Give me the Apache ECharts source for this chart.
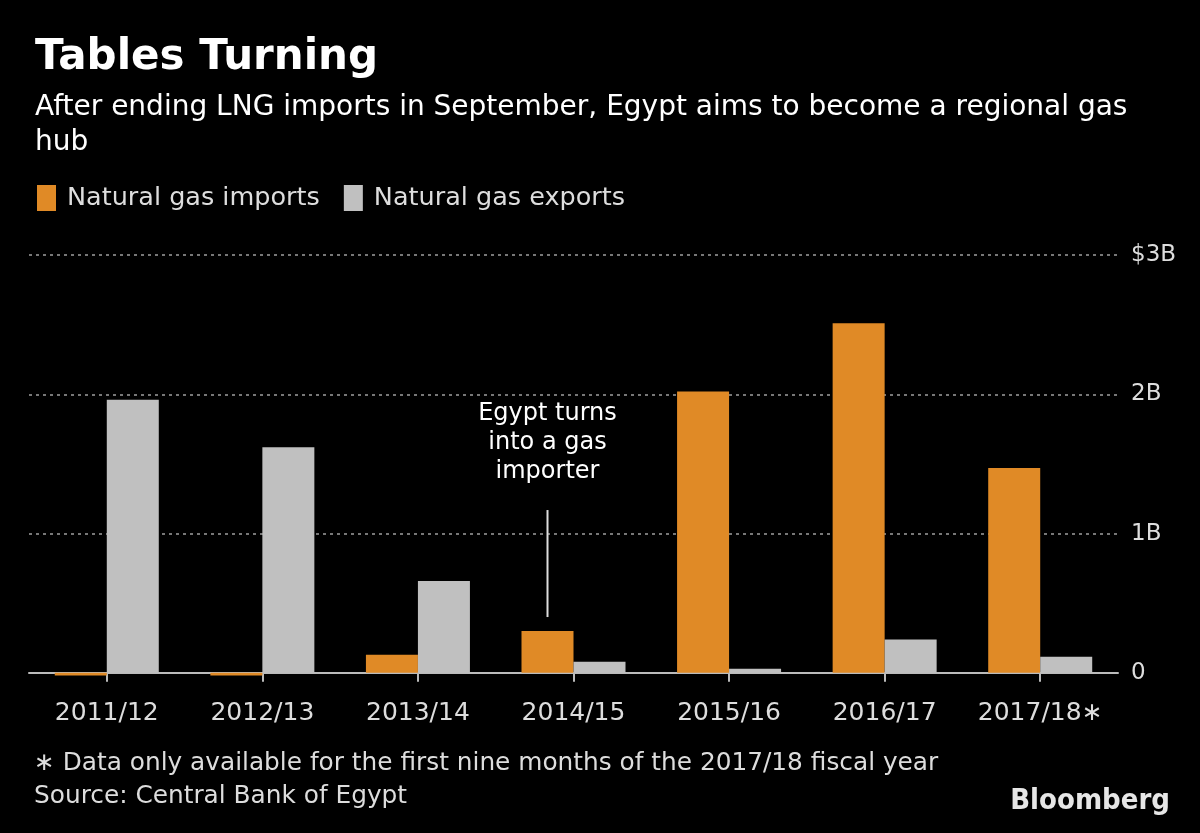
<!DOCTYPE html>
<html><head><meta charset="utf-8">
<script src="https://cdn.jsdelivr.net/npm/echarts@6/dist/echarts.min.js"></script>
<style>html,body{margin:0;padding:0;background:#000;}#c{width:1200px;height:833px;}</style>
</head><body><div id="c"></div>
<script>
const categories = ['2011/12','2012/13','2013/14','2014/15','2015/16','2016/17','2017/18'];
const importsB = [-0.02, -0.02, 0.13, 0.30, 2.02, 2.51, 1.47];
const exportsB = [1.96, 1.62, 0.66, 0.08, 0.03, 0.24, 0.115];
const yTickValues = [0, 1, 2, 3];
const yTickLabels = ['0', '1B', '2B', '$3B'];
const FONT = 'DejaVu Sans';

const chart = echarts.init(document.getElementById('c'), null, {renderer:'canvas'});
chart.setOption({
  backgroundColor:'#000',
  animation:false,
  textStyle:{fontFamily:FONT},
  title:{
    text:'Tables Turning',
    subtext:'After ending LNG imports in September, Egypt aims to become a regional gas\nhub',
    left:30, top:32, itemGap:11,
    textStyle:{color:'#fff', fontSize:42, fontWeight:'bold', fontFamily:FONT},
    subtextStyle:{color:'#fff', fontSize:28, lineHeight:35, fontFamily:FONT}
  },
  legend:{
    left:32, top:180, itemWidth:19, itemHeight:26, itemGap:24,
    icon:'rect',
    textStyle:{color:'#ddd', fontSize:25.5, fontFamily:FONT, padding:[0,0,0,6]},
    data:['Natural gas imports','Natural gas exports']
  },
  grid:{left:29, right:82, top:255, bottom:156, containLabel:false},
  xAxis:{
    type:'category', data:categories,
    axisLine:{onZero:true, lineStyle:{color:'#bbb', width:2}},
    axisTick:{show:true, alignWithLabel:true, interval:0, length:9, lineStyle:{color:'#bbb', width:2}},
    axisLabel:{color:'#ddd', fontSize:25, margin:24, fontFamily:FONT, interval:0, hideOverlap:false,
      formatter:(v)=> v==='2017/18' ? '2017/18\u2217' : v}
  },
  yAxis:{
    type:'value', position:'right', min:-0.03, max:3,
    axisLine:{show:false},
    axisTick:{show:false, customValues:yTickValues},
    splitLine:{show:true, lineStyle:{color:'#777', type:[3,4], width:2}},
    axisLabel:{color:'#ddd', fontSize:23, margin:13, fontFamily:FONT,
      customValues:yTickValues,
      formatter:(v)=> { const i = yTickValues.indexOf(v); return i >= 0 ? yTickLabels[i] : ''; }}
  },
  series:[
    {name:'Natural gas imports', type:'bar', data:importsB.map((v,i)=> i===3 ? {
        value:v,
        label:{show:true, position:'top', distance:14,
          formatter:'{t|Egypt turns}\n{t|into a gas}\n{t|importer}\n{s|}\n{l|}',
          rich:{
            t:{color:'#fff', fontSize:24, lineHeight:29, fontFamily:FONT, align:'center'},
            s:{height:24},
            l:{width:2, height:107, backgroundColor:'#ddd', align:'center'}
          }}
      } : v),
      itemStyle:{color:'#E08A26'}, barWidth:52, barGap:'0%', barCategoryGap:'33%'},
    {name:'Natural gas exports', type:'bar', data:exportsB,
      itemStyle:{color:'#C0C0C0'}, barWidth:52, barGap:'0%'}
  ],
  graphic:[
    {type:'text', left:34, top:751, style:{text:'\u2217 Data only available for the first nine months of the 2017/18 fiscal year', fill:'#ddd', fontSize:24.8, fontFamily:FONT}},
    {type:'text', left:34, top:784, style:{text:'Source: Central Bank of Egypt', fill:'#ddd', fontSize:24.8, fontFamily:FONT}},
    {type:'text', right:30, top:787, style:{text:'Bloomberg', fill:'#e6e6e6', fontSize:29, fontWeight:'bold', fontFamily:'Liberation Sans Narrow, DejaVu Sans Condensed, sans-serif'}}
  ]
});
</script></body></html>
